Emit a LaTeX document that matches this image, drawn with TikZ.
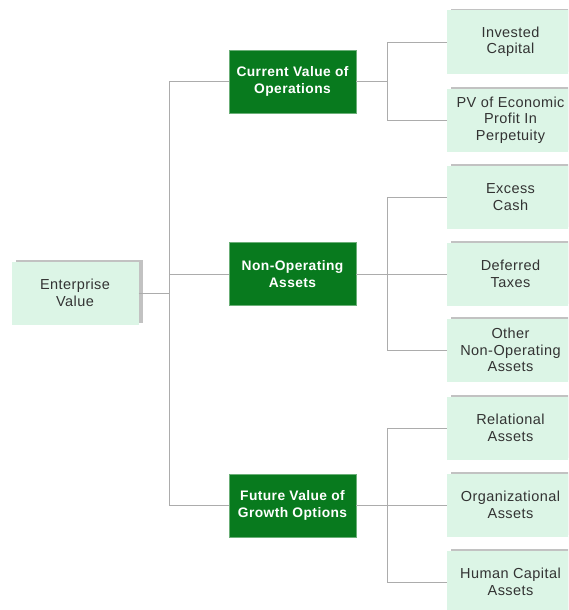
\documentclass[tikz,border=0pt]{standalone}
\usepackage{fontspec}
\setmainfont{Liberation Sans}[LetterSpace=3]
\usetikzlibrary{shadows}
\definecolor{leafmint}{HTML}{DCF5E6}
\definecolor{valuegreen}{HTML}{087A1E}
\definecolor{inkgray}{HTML}{333333}

\begin{document}
\begin{tikzpicture}[x=1pt, y=-1pt,
      every node/.style = {shape=rectangle, align=center,
        minimum width=127pt, minimum height=63pt, inner sep=0pt},
      leaf/.style = {fill=leafmint, text=inkgray,
        font=\fontsize{14.5}{16.5}\selectfont,
        drop shadow={shadow xshift=4pt, shadow yshift=1.5pt,
          fill=black!60, opacity=.4}},
      branch/.style = {fill=valuegreen, draw=valuegreen!60, text=white,
        font=\bfseries\fontsize{13.8}{17}\selectfont},
      link/.style = {draw=gray!65, line width=0.8pt}]
  \useasboundingbox (0,0) rectangle (568,610);
  \clip (0,0) rectangle (568,610);

  \node[leaf] (ev) at (75,293) {Enterprise\\Value};

  \node[branch] (cur) at (292.5,81.5) {Current Value of\\Operations};
  \node[branch] (nonop) at (292.5,274) {Non-Operating\\Assets};
  \node[branch] (fut) at (292.5,505.5) {Future Value of\\Growth Options};

  \foreach \name/\y/\txt in {inv/42/Invested\\Capital,
      pv/120/PV of Economic\\Profit In\\Perpetuity,
      cash/197/Excess\\Cash, tax/274/Deferred\\Taxes,
      other/350/Other\\Non-Operating\\Assets,
      rel/428/Relational\\Assets, org/505/Organizational\\Assets,
      hum/582/Human Capital\\Assets}
    \node[leaf] (\name) at (510.5,\y) {\txt};

  % connectors
  \draw[link] (ev.east) -- ++(31,0) coordinate (trunk);
  \foreach \g in {cur,nonop,fut}
    \draw[link] (trunk) |- (\g.west);
  \foreach \g/\kids in {cur/{inv,pv}, nonop/{cash,tax,other}, fut/{rel,org,hum}} {
    \draw[link] (\g.east) -- ++(31,0) coordinate (\g-spine);
    \foreach \k in \kids
      \draw[link] (\g-spine) |- (\k.west);
  }
\end{tikzpicture}
\end{document}
